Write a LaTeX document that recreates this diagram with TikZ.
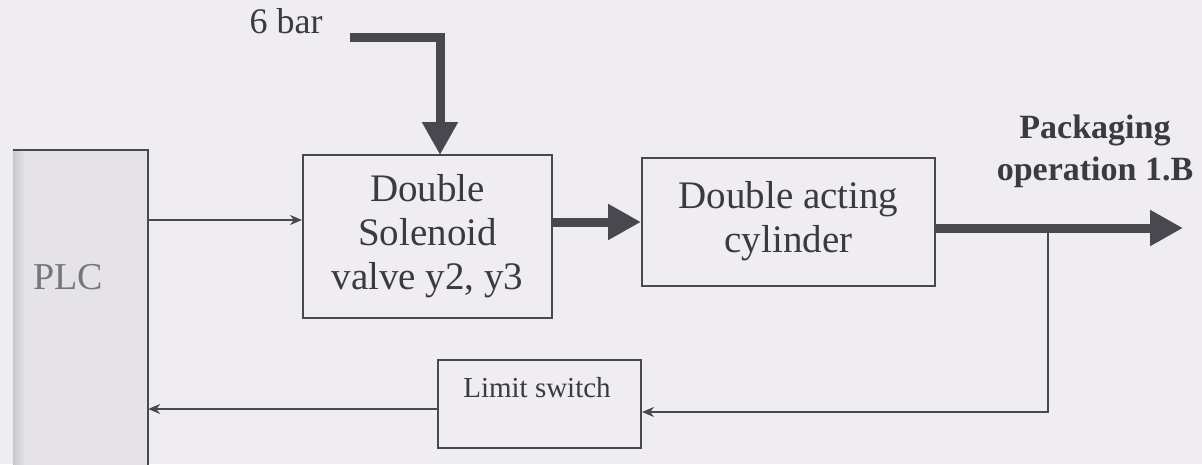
\documentclass[tikz,border=0pt]{standalone}
\usepackage{fontspec}
\setmainfont{Liberation Serif}
\usetikzlibrary{arrows.meta}
\definecolor{bg}{RGB}{240,237,241}
\definecolor{ink}{RGB}{72,72,78}
\definecolor{txt}{RGB}{58,58,64}
\definecolor{plcfill}{RGB}{229,227,232}
\definecolor{plcedge}{RGB}{200,199,206}
\definecolor{plctxt}{RGB}{118,118,124}
\begin{document}
\begin{tikzpicture}[x=1pt,y=-1pt,
  box/.style={draw=ink,line width=2pt,inner sep=0pt,text=txt},
  sig/.style={draw=ink,line width=2pt,-{Stealth[length=12pt,width=10pt]}},
  flow/.style={draw=ink,line width=9pt,line join=miter,-{Triangle[length=33pt,width=34pt]}},
  big/.style={font=\fontsize{39}{44}\selectfont},
]
\fill[bg] (0,0) rectangle (1202,464);
\useasboundingbox (0,0) rectangle (1202,464);
% PLC
\node[fill=plcfill, inner sep=0pt, minimum width=135pt, minimum height=330pt] (plc) at (80.5,315) {};
\shade[left color=plcedge,right color=plcfill] (plc.north west) rectangle ([xshift=12pt]plc.south west);
\draw[ink,line width=2pt] (plc.north west) -- (plc.north east) -- (plc.south east);
\node[text=plctxt,font=\fontsize{38}{40}\selectfont] (plctext) at (68,277) {PLC};
% boxes
\node[box,big,align=center,minimum width=249pt,minimum height=163pt] (valve) at (427.5,236.5) {Double\\Solenoid\\valve y2, y3};
\node[box,big,align=center,minimum width=293pt,minimum height=128pt] (cyl) at (788.5,222) {Double acting\\cylinder\rule[-10pt]{0pt}{1pt}};
\node[box,minimum width=203pt,minimum height=88pt] (ls) at (539.5,404) {};
\node[text=txt,font=\fontsize{29}{34}\selectfont] (lstext) at (537,388) {Limit switch};
% labels
\node[text=txt,font=\fontsize{36}{40}\selectfont,anchor=base] (bar) at (286,33) {6 bar};
\node[text=txt,font=\bfseries\fontsize{34}{42}\selectfont,align=center] (pkg) at (1095,151) {Packaging\\operation 1.B};
% coordinates
\coordinate (src) at (350,37);
\coordinate (vin) at (440,155);
\coordinate (y220) at (0,220);
\coordinate (out) at (1183,228);
\coordinate (br) at (1048,228);
\coordinate (fb) at (1048,412);
\coordinate (y409) at (0,409);
% connectors
\draw[flow] (src) -| (vin);
\draw[sig] (plc.east |- y220) -- (valve.west |- y220);
\draw[flow] (valve.east |- cyl.west) -- (cyl.west);
\draw[flow] (cyl.east |- out) -- (out);
\draw[sig] (br) -- (fb) -- (ls.east |- fb);
\draw[sig] (ls.west |- y409) -- (plc.east |- y409);
\end{tikzpicture}
\end{document}
